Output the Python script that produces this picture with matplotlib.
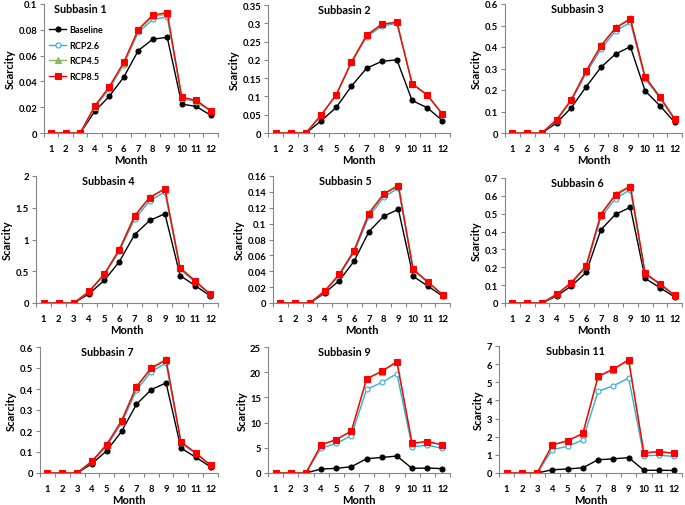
import numpy as np
import matplotlib
matplotlib.use("Agg")
import matplotlib.pyplot as plt
import matplotlib.ticker as ticker

plt.rcParams['font.family'] = ['Lato', 'DejaVu Sans']
plt.rcParams['font.weight'] = 'bold'

months = list(range(1, 13))
zeros = [0, 0, 0]

# scarcity values per subbasin (months 1-12)
sb1_base = zeros + [0.0168, 0.0284, 0.0433, 0.0639, 0.0727, 0.0742, 0.0224, 0.0206, 0.0137]
sb1_rcp26 = zeros + [0.020, 0.034, 0.053, 0.078, 0.088, 0.090, 0.027, 0.024, 0.017]
sb1_rcp45 = zeros + [0.0205, 0.0355, 0.054, 0.0795, 0.0905, 0.092, 0.0275, 0.025, 0.017]
sb1_rcp85 = zeros + [0.0209, 0.0358, 0.0549, 0.0802, 0.0915, 0.0933, 0.0278, 0.0253, 0.0173]

sb2_base = zeros + [0.033, 0.070, 0.128, 0.177, 0.196, 0.200, 0.089, 0.069, 0.034]
sb2_rcp26 = zeros + [0.048, 0.104, 0.192, 0.263, 0.292, 0.300, 0.134, 0.103, 0.051]
sb2_rcp45 = zeros + [0.049, 0.105, 0.194, 0.268, 0.298, 0.304, 0.135, 0.104, 0.052]
sb2_rcp85 = zeros + [0.049, 0.105, 0.194, 0.267, 0.297, 0.303, 0.135, 0.104, 0.052]

sb3_base = zeros + [0.047, 0.118, 0.215, 0.305, 0.368, 0.401, 0.196, 0.127, 0.050]
sb3_rcp26 = zeros + [0.058, 0.150, 0.278, 0.390, 0.475, 0.515, 0.252, 0.163, 0.062]
sb3_rcp45 = zeros + [0.062, 0.156, 0.289, 0.407, 0.492, 0.533, 0.261, 0.169, 0.066]
sb3_rcp85 = zeros + [0.062, 0.155, 0.288, 0.404, 0.488, 0.530, 0.260, 0.168, 0.065]

sb4_base = zeros + [0.146, 0.355, 0.653, 1.076, 1.30, 1.405, 0.433, 0.272, 0.110]
sb4_rcp26 = zeros + [0.175, 0.44, 0.82, 1.32, 1.61, 1.75, 0.53, 0.33, 0.13]
sb4_rcp45 = zeros + [0.185, 0.455, 0.845, 1.38, 1.67, 1.80, 0.555, 0.347, 0.137]
sb4_rcp85 = zeros + [0.183, 0.454, 0.841, 1.368, 1.661, 1.796, 0.553, 0.345, 0.136]

sb5_base = zeros + [0.0125, 0.0283, 0.0528, 0.0898, 0.1093, 0.118, 0.0337, 0.0212, 0.0087]
sb5_rcp26 = zeros + [0.0145, 0.035, 0.064, 0.109, 0.133, 0.145, 0.041, 0.026, 0.010]
sb5_rcp45 = zeros + [0.0152, 0.0365, 0.0665, 0.114, 0.138, 0.149, 0.0427, 0.0268, 0.0105]
sb5_rcp85 = zeros + [0.015, 0.0362, 0.0661, 0.1126, 0.1367, 0.148, 0.0424, 0.0266, 0.0104]

sb6_base = zeros + [0.039, 0.095, 0.171, 0.410, 0.497, 0.536, 0.138, 0.086, 0.034]
sb6_rcp26 = zeros + [0.046, 0.110, 0.200, 0.480, 0.585, 0.635, 0.160, 0.104, 0.041]
sb6_rcp45 = zeros + [0.049, 0.116, 0.209, 0.500, 0.612, 0.658, 0.167, 0.109, 0.044]
sb6_rcp85 = zeros + [0.048, 0.114, 0.207, 0.495, 0.605, 0.652, 0.166, 0.108, 0.043]

sb7_base = zeros + [0.044, 0.106, 0.198, 0.327, 0.397, 0.429, 0.119, 0.075, 0.029]
sb7_rcp26 = zeros + [0.053, 0.128, 0.238, 0.393, 0.483, 0.523, 0.143, 0.092, 0.036]
sb7_rcp45 = zeros + [0.057, 0.137, 0.250, 0.413, 0.503, 0.542, 0.149, 0.096, 0.038]
sb7_rcp85 = zeros + [0.056, 0.135, 0.248, 0.410, 0.498, 0.538, 0.148, 0.095, 0.037]

sb9_base = zeros + [0.79, 0.92, 1.25, 2.83, 3.09, 3.36, 0.92, 0.99, 0.86]
sb9_rcp26 = zeros + [4.93, 5.86, 7.43, 16.6, 17.96, 19.7, 5.2, 5.5, 4.93]
sb9_rcp45 = zeros + [5.55, 6.6, 8.3, 18.6, 20.1, 22.0, 5.9, 6.2, 5.55]
sb9_rcp85 = zeros + [5.59, 6.64, 8.36, 18.7, 20.2, 22.1, 5.92, 6.25, 5.59]

sb11_base = zeros + [0.18, 0.22, 0.29, 0.73, 0.78, 0.85, 0.15, 0.15, 0.14]
sb11_rcp26 = zeros + [1.29, 1.47, 1.82, 4.51, 4.80, 5.24, 0.95, 0.98, 0.91]
sb11_rcp45 = zeros + [1.54, 1.77, 2.17, 5.30, 5.70, 6.20, 1.10, 1.17, 1.08]
sb11_rcp85 = zeros + [1.55, 1.78, 2.18, 5.33, 5.73, 6.24, 1.11, 1.18, 1.09]

titles = ["Subbasin 1", "Subbasin 2", "Subbasin 3", "Subbasin 4", "Subbasin 5",
          "Subbasin 6", "Subbasin 7", "Subbasin 9", "Subbasin 11"]
series = [
    (sb1_base, sb1_rcp26, sb1_rcp45, sb1_rcp85),
    (sb2_base, sb2_rcp26, sb2_rcp45, sb2_rcp85),
    (sb3_base, sb3_rcp26, sb3_rcp45, sb3_rcp85),
    (sb4_base, sb4_rcp26, sb4_rcp45, sb4_rcp85),
    (sb5_base, sb5_rcp26, sb5_rcp45, sb5_rcp85),
    (sb6_base, sb6_rcp26, sb6_rcp45, sb6_rcp85),
    (sb7_base, sb7_rcp26, sb7_rcp45, sb7_rcp85),
    (sb9_base, sb9_rcp26, sb9_rcp45, sb9_rcp85),
    (sb11_base, sb11_rcp26, sb11_rcp45, sb11_rcp85),
]
y_max = [0.1, 0.35, 0.6, 2, 0.16, 0.7, 0.6, 25, 7]
y_step = [0.02, 0.05, 0.1, 0.5, 0.02, 0.1, 0.1, 5, 1]
labels = ["Baseline", "RCP2.6", "RCP4.5", "RCP8.5"]

# axes boxes in pixels: left, top, right, bottom
W, H = 685, 506
boxes = [
    (44, 5, 218, 134), (268, 6, 450, 134), (505, 5, 682, 134),
    (36, 177, 218, 304), (273, 177, 450, 304), (505, 179, 682, 304),
    (40, 348, 218, 474), (268, 348, 450, 474), (499, 347, 682, 474),
]
title_x = [0.21, 0.42, 0.41, 0.40, 0.41, 0.41, 0.38, 0.42, 0.42]

styles = [
    dict(color="black", marker="o", markersize=3.6, markerfacecolor="black"),
    dict(color="#33AEDB", marker="o", markersize=3.6, markerfacecolor="white"),
    dict(color="#8DB461", marker="^", markersize=3.8, markerfacecolor="#8DB461"),
    dict(color="#FF0000", marker="s", markersize=3.8, markerfacecolor="#FF0000"),
]

fig = plt.figure(figsize=(W / 100, H / 100), dpi=100)

for i, (l, t, r, b) in enumerate(boxes):
    ax = fig.add_axes([l / W, 1 - b / H, (r - l) / W, (b - t) / H])
    for vals, lab, st in zip(series[i], labels, styles):
        ax.plot(months, vals, label=lab, linewidth=1.0, markeredgewidth=0.8,
                markeredgecolor=st["color"], **st)
    ax.set_xlim(0.5, 12.5)
    ax.set_ylim(0, y_max[i])
    ax.set_xticks(months)
    ax.set_xticks(np.arange(0.5, 13, 1), minor=True)
    ax.tick_params(axis="x", which="major", length=0, labelsize=6.8, pad=8)
    ax.tick_params(axis="x", which="minor", length=3, width=0.8, color="#868686")
    ax.tick_params(axis="y", length=3, width=0.8, color="#868686", labelsize=6.8, pad=2)
    ax.set_yticks(np.arange(0, y_max[i] + y_step[i] / 2, y_step[i]))
    ax.yaxis.set_major_formatter(ticker.FuncFormatter(lambda v, p: f"{round(v, 4):g}"))
    for s in ["top", "right"]:
        ax.spines[s].set_visible(False)
    for s in ["left", "bottom"]:
        ax.spines[s].set_color("#868686")
        ax.spines[s].set_linewidth(0.8)
    ax.set_xlabel("Month", fontsize=8, fontweight="bold", labelpad=1)
    ax.set_ylabel("Scarcity", fontsize=8, fontweight="bold", labelpad=2)
    ax.text(title_x[i], 0.965, titles[i], transform=ax.transAxes, ha="center",
            va="center", fontsize=7.8, fontweight="bold")
    if i == 0:
        ax.legend(loc="upper left", bbox_to_anchor=(0.0, 0.88), frameon=False,
                  fontsize=6.5, handlelength=1.8, handletextpad=0.35,
                  labelspacing=0.75, borderaxespad=0.2)

fig.savefig("out.png", dpi=100)
